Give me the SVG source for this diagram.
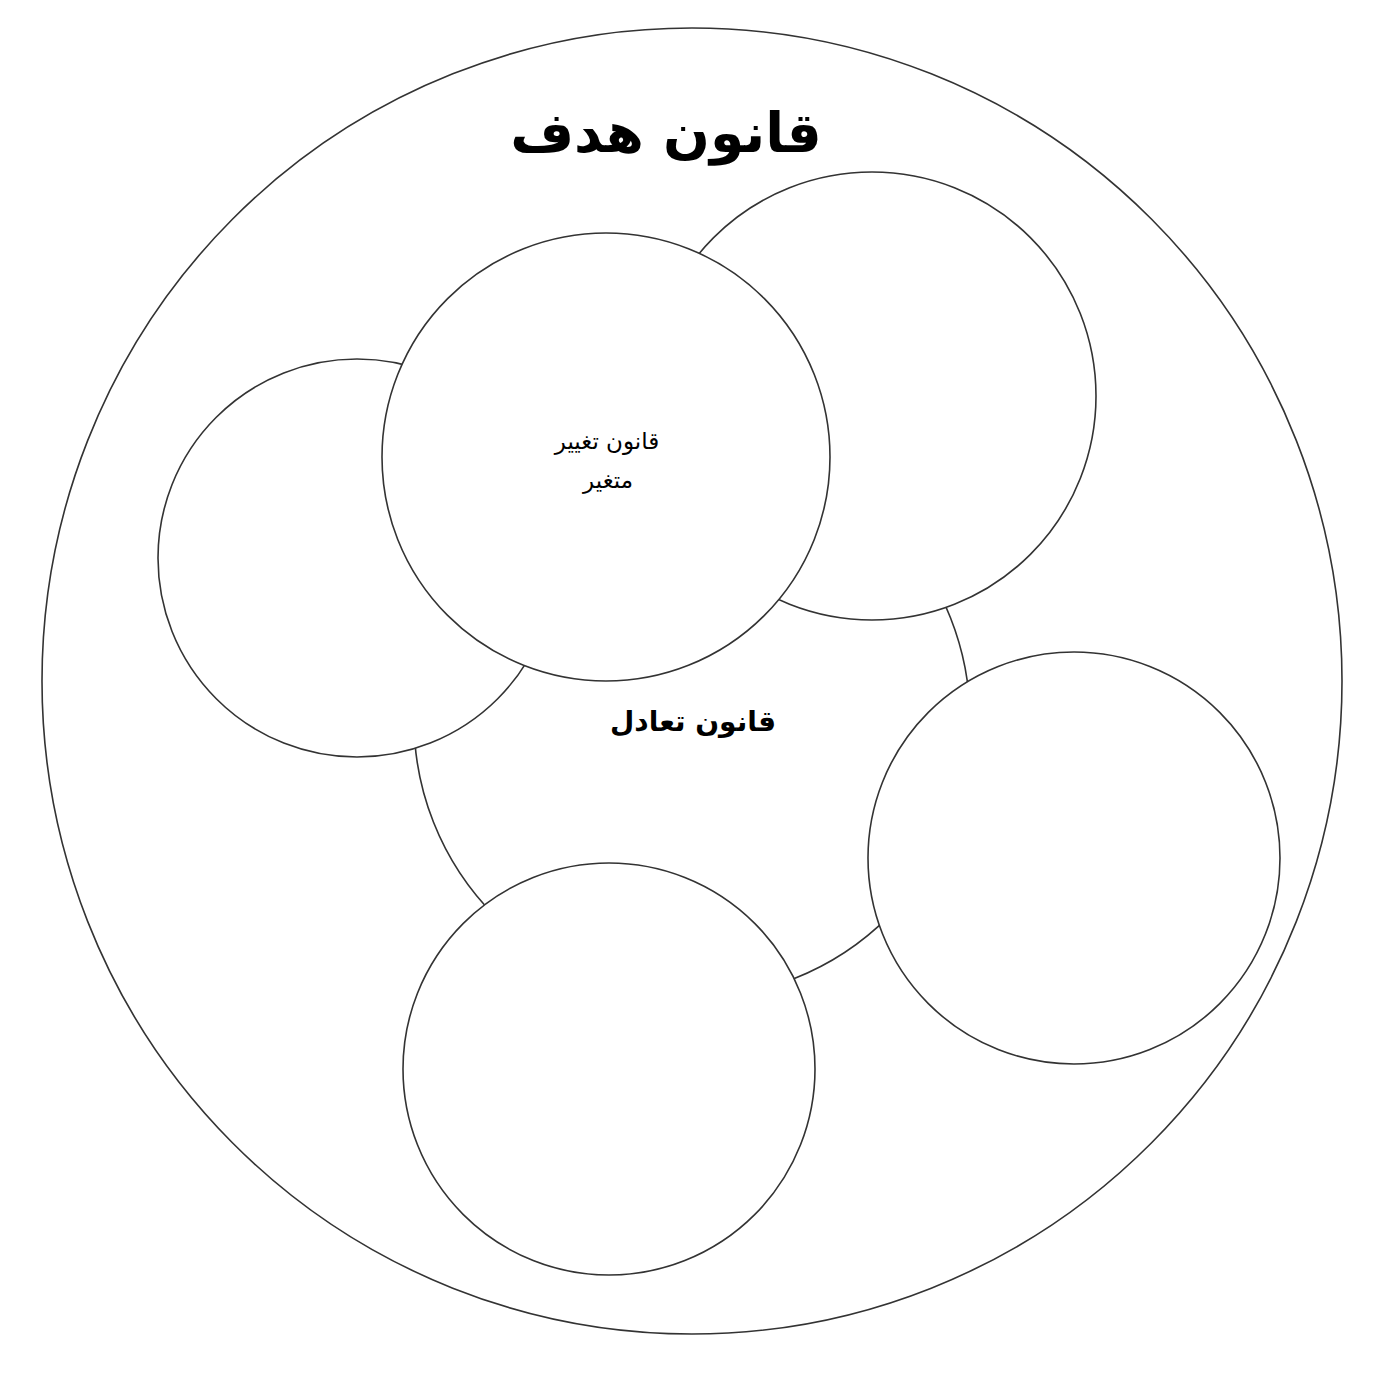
<svg xmlns="http://www.w3.org/2000/svg" width="1400" height="1400" viewBox="0 0 1400 1400">
<style>
.c{fill:#fff;stroke:#333;stroke-width:1.6}
.t{font-family:"DejaVu Sans",sans-serif;fill:#000;text-anchor:middle}
</style>
<rect width="1400" height="1400" fill="#fff"/>
<g id="outer">
<ellipse class="c" cx="692" cy="681" rx="650" ry="653"/>
<text class="t" x="666" y="152" font-size="55" font-weight="bold" direction="rtl">قانون هدف</text>
</g>
<g id="balance">
<circle class="c" cx="692" cy="720" r="278"/>
<text class="t" x="693" y="731" font-size="28" font-weight="bold" direction="rtl">قانون تعادل</text>
</g>
<g id="left"><circle class="c" cx="357" cy="558" r="199"/></g>
<g id="topright"><circle class="c" cx="872" cy="396" r="224"/></g>
<g id="right"><circle class="c" cx="1074" cy="858" r="206"/></g>
<g id="bottom"><circle class="c" cx="609" cy="1069" r="206"/></g>
<g id="change">
<circle class="c" cx="606" cy="457" r="224"/>
<text class="t" x="607" y="449" font-size="23" direction="rtl">قانون تغییر</text>
<text class="t" x="608" y="488" font-size="23" direction="rtl">متغیر</text>
</g>
<g id="connectors"></g>
</svg>
